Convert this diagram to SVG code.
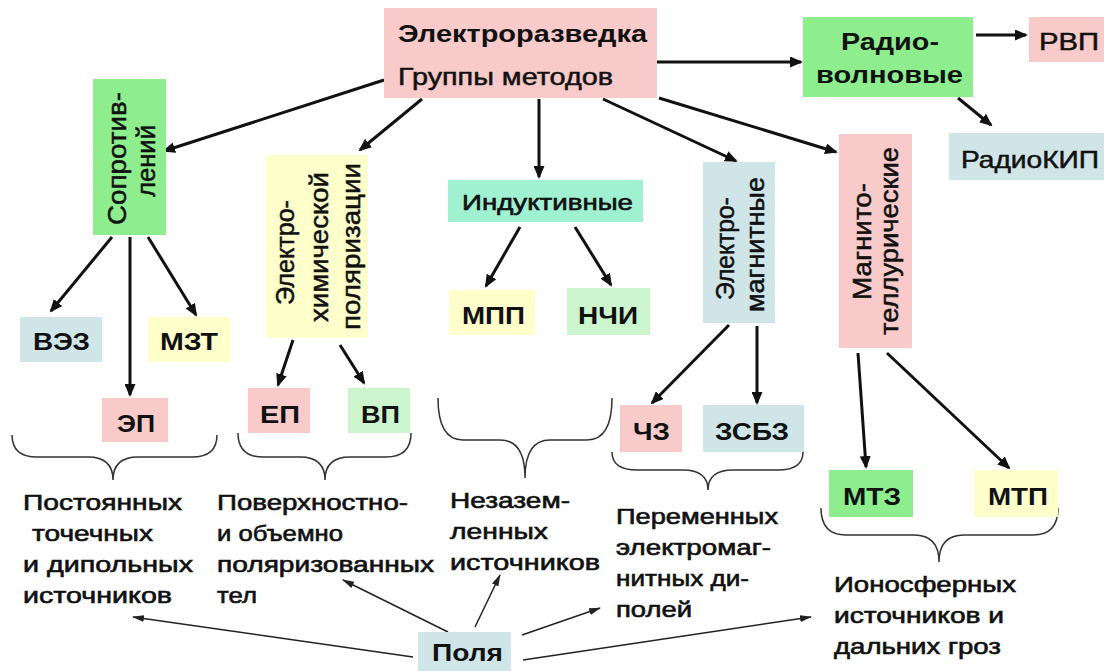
<svg xmlns="http://www.w3.org/2000/svg" width="1106" height="671" viewBox="0 0 1106 671">
<style>
text{font-family:"Liberation Sans",Arial,sans-serif;fill:#111}
.b{font-weight:bold;font-size:24px}
.r{font-size:24px;stroke:#111;stroke-width:0.5}
.v{font-size:25px;stroke:#111;stroke-width:0.5}
.t{font-size:21.5px;stroke:#111;stroke-width:0.6}
.pink{fill:#F8CACA}
.green{fill:#8EEE8E}
.lgreen{fill:#CDF5CD}
.teal{fill:#A0F0D2}
.blue{fill:#CFE5E8}
.yellow{fill:#FFFFCC}
.thick{stroke:#111;stroke-width:3;fill:none;marker-end:url(#ah)}
.thin{stroke:#222;stroke-width:1.5;fill:none;marker-end:url(#ahs)}
.brace{stroke:#333;stroke-width:1.5;fill:none}
</style>
<defs>
<marker id="ah" viewBox="0 0 13 11" refX="11" refY="5.5" markerWidth="13" markerHeight="11" markerUnits="userSpaceOnUse" orient="auto"><path d="M0,0 L13,5.5 L0,11 z" fill="#111"/></marker>
<marker id="ahs" viewBox="0 0 12 7" refX="11" refY="3.5" markerWidth="12" markerHeight="7" markerUnits="userSpaceOnUse" orient="auto"><path d="M0,0 L12,3.5 L0,7 z" fill="#222"/></marker>
</defs>
<rect width="1106" height="671" fill="#fff"/>

<g id="connectors">
<line class="thick" x1="384" y1="80" x2="164" y2="151"/>
<line class="thick" x1="422" y1="99" x2="360" y2="150"/>
<line class="thick" x1="539" y1="99" x2="539" y2="177"/>
<line class="thick" x1="603" y1="99" x2="736" y2="161"/>
<line class="thick" x1="659" y1="98" x2="836" y2="152"/>
<line class="thick" x1="657" y1="62" x2="801" y2="62"/>
<line class="thick" x1="976" y1="35" x2="1026" y2="35"/>
<line class="thick" x1="958" y1="98" x2="991" y2="125"/>
<line class="thick" x1="112" y1="237" x2="51" y2="311"/>
<line class="thick" x1="130" y1="237" x2="130" y2="395"/>
<line class="thick" x1="148" y1="237" x2="196" y2="315"/>
<line class="thick" x1="293" y1="340" x2="278" y2="385"/>
<line class="thick" x1="340" y1="345" x2="364" y2="383"/>
<line class="thick" x1="520" y1="227" x2="486" y2="286"/>
<line class="thick" x1="575" y1="227" x2="611" y2="285"/>
<line class="thick" x1="729" y1="325" x2="652" y2="403"/>
<line class="thick" x1="757" y1="326" x2="757" y2="403"/>
<line class="thick" x1="858" y1="353" x2="866" y2="467"/>
<line class="thick" x1="887" y1="353" x2="1009" y2="468"/>
<line class="thin" x1="413" y1="657" x2="133" y2="617"/>
<line class="thin" x1="448" y1="632" x2="343" y2="580"/>
<line class="thin" x1="475" y1="627" x2="500" y2="575"/>
<line class="thin" x1="522" y1="635" x2="600" y2="608"/>
<line class="thin" x1="523" y1="660" x2="811" y2="617"/>
</g>

<g id="braces">
<path class="brace" d="M12,435 Q12,457 37,457 L88,457 Q113,457 113,480 Q113,457 138,457 L192,457 Q217,457 217,435"/>
<path class="brace" d="M238,433 Q238,457 263,457 L300,457 Q325,457 325,480 Q325,457 350,457 L386,457 Q411,457 411,433"/>
<path class="brace" d="M438,398 Q438,440 463,440 L500,440 Q525,440 525,478 Q525,440 550,440 L587,440 Q612,440 612,398"/>
<path class="brace" d="M612,452 Q612,470 637,470 L683,470 Q708,470 708,490 Q708,470 733,470 L778,470 Q803,470 803,452"/>
<path class="brace" d="M821,508 Q821,535 846,535 L914,535 Q939,535 939,562 Q939,535 964,535 L1033,535 Q1058,535 1058,508"/>
</g>

<g id="n-top">
<rect class="pink" x="384" y="8" width="273" height="90"/>
<text class="b" x="398" y="42" textLength="249" lengthAdjust="spacingAndGlyphs">Электроразведка</text>
<text class="r" x="398" y="85" textLength="215" lengthAdjust="spacingAndGlyphs">Группы методов</text>
</g>
<g id="n-radio">
<rect class="green" x="803" y="17" width="170" height="80"/>
<text class="b" x="841" y="50" textLength="98" lengthAdjust="spacingAndGlyphs">Радио-</text>
<text class="b" x="816" y="83" textLength="147" lengthAdjust="spacingAndGlyphs">волновые</text>
</g>
<g id="n-rvp">
<rect class="pink" x="1029" y="17" width="75" height="45"/>
<text class="r" x="1039" y="50" textLength="60" lengthAdjust="spacingAndGlyphs">РВП</text>
</g>
<g id="n-radiokip">
<rect class="blue" x="949" y="133" width="155" height="47"/>
<text class="r" x="961" y="168" textLength="138" lengthAdjust="spacingAndGlyphs">РадиоКИП</text>
</g>
<g id="n-soprot">
<rect class="green" x="93" y="79" width="73" height="156"/>
<text class="v" transform="translate(126,225) rotate(-90)" textLength="133" lengthAdjust="spacingAndGlyphs">Сопротив-</text>
<text class="v" transform="translate(155,197) rotate(-90)" textLength="72" lengthAdjust="spacingAndGlyphs">лений</text>
</g>
<g id="n-ehp">
<rect class="yellow" x="266" y="155" width="102" height="183"/>
<text class="v" transform="translate(294,305) rotate(-90)" textLength="105" lengthAdjust="spacingAndGlyphs">Электро-</text>
<text class="v" transform="translate(328,322) rotate(-90)" textLength="150" lengthAdjust="spacingAndGlyphs">химической</text>
<text class="v" transform="translate(360,330) rotate(-90)" textLength="167" lengthAdjust="spacingAndGlyphs">поляризации</text>
</g>
<g id="n-induct">
<rect class="teal" x="448" y="180" width="195" height="42"/>
<text class="t" x="462" y="210" textLength="171" lengthAdjust="spacingAndGlyphs">Индуктивные</text>
</g>
<g id="n-em">
<rect class="blue" x="703" y="162" width="72" height="161"/>
<text class="v" transform="translate(734,300) rotate(-90)" textLength="103" lengthAdjust="spacingAndGlyphs">Электро-</text>
<text class="v" transform="translate(764,312) rotate(-90)" textLength="135" lengthAdjust="spacingAndGlyphs">магнитные</text>
</g>
<g id="n-mt">
<rect class="pink" x="839" y="134" width="73" height="214"/>
<text class="v" transform="translate(871,300) rotate(-90)" textLength="117" lengthAdjust="spacingAndGlyphs">Магнито-</text>
<text class="v" transform="translate(898,335) rotate(-90)" textLength="188" lengthAdjust="spacingAndGlyphs">теллурические</text>
</g>
<g id="n-vez">
<rect class="blue" x="20" y="317" width="82" height="45"/>
<text class="b" x="33" y="350" textLength="57" lengthAdjust="spacingAndGlyphs">ВЭЗ</text>
</g>
<g id="n-mzt">
<rect class="yellow" x="148" y="317" width="82" height="45"/>
<text class="b" x="160" y="350" textLength="58" lengthAdjust="spacingAndGlyphs">МЗТ</text>
</g>
<g id="n-ep1">
<rect class="pink" x="102" y="398" width="66" height="44"/>
<text class="b" x="117" y="432" textLength="38" lengthAdjust="spacingAndGlyphs">ЭП</text>
</g>
<g id="n-ep2">
<rect class="pink" x="248" y="388" width="62" height="45"/>
<text class="b" x="260" y="423" textLength="40" lengthAdjust="spacingAndGlyphs">ЕП</text>
</g>
<g id="n-vp">
<rect class="lgreen" x="348" y="388" width="62" height="45"/>
<text class="b" x="361" y="423" textLength="39" lengthAdjust="spacingAndGlyphs">ВП</text>
</g>
<g id="n-mpp">
<rect class="yellow" x="449" y="290" width="86" height="45"/>
<text class="b" x="462" y="324" textLength="63" lengthAdjust="spacingAndGlyphs">МПП</text>
</g>
<g id="n-nchi">
<rect class="lgreen" x="567" y="288" width="83" height="47"/>
<text class="b" x="578" y="324" textLength="60" lengthAdjust="spacingAndGlyphs">НЧИ</text>
</g>
<g id="n-chz">
<rect class="pink" x="620" y="405" width="62" height="47"/>
<text class="b" x="633" y="440" textLength="37" lengthAdjust="spacingAndGlyphs">ЧЗ</text>
</g>
<g id="n-zsbz">
<rect class="blue" x="703" y="405" width="101" height="47"/>
<text class="b" x="715" y="440" textLength="74" lengthAdjust="spacingAndGlyphs">ЗСБЗ</text>
</g>
<g id="n-mtz">
<rect class="green" x="829" y="470" width="84" height="47"/>
<text class="b" x="843" y="505" textLength="58" lengthAdjust="spacingAndGlyphs">МТЗ</text>
</g>
<g id="n-mtp">
<rect class="yellow" x="974" y="470" width="84" height="47"/>
<text class="b" x="988" y="505" textLength="60" lengthAdjust="spacingAndGlyphs">МТП</text>
</g>
<g id="n-polya">
<rect class="blue" x="418" y="632" width="93" height="45"/>
<text class="b" x="432" y="661" textLength="71" lengthAdjust="spacingAndGlyphs">Поля</text>
</g>

<g id="labels">
<text class="t" x="23" y="510" textLength="159" lengthAdjust="spacingAndGlyphs">Постоянных</text>
<text class="t" x="32" y="541" textLength="121" lengthAdjust="spacingAndGlyphs">точечных</text>
<text class="t" x="23" y="572" textLength="170" lengthAdjust="spacingAndGlyphs">и дипольных</text>
<text class="t" x="23" y="603" textLength="149" lengthAdjust="spacingAndGlyphs">источников</text>
<text class="t" x="217" y="510" textLength="191" lengthAdjust="spacingAndGlyphs">Поверхностно-</text>
<text class="t" x="217" y="541" textLength="126" lengthAdjust="spacingAndGlyphs">и объемно</text>
<text class="t" x="217" y="572" textLength="217" lengthAdjust="spacingAndGlyphs">поляризованных</text>
<text class="t" x="217" y="603" textLength="40" lengthAdjust="spacingAndGlyphs">тел</text>
<text class="t" x="450" y="508" textLength="120" lengthAdjust="spacingAndGlyphs">Незазем-</text>
<text class="t" x="450" y="539" textLength="98" lengthAdjust="spacingAndGlyphs">ленных</text>
<text class="t" x="450" y="570" textLength="150" lengthAdjust="spacingAndGlyphs">источников</text>
<text class="t" x="616" y="524" textLength="162" lengthAdjust="spacingAndGlyphs">Переменных</text>
<text class="t" x="616" y="555" textLength="155" lengthAdjust="spacingAndGlyphs">электромаг-</text>
<text class="t" x="616" y="586" textLength="133" lengthAdjust="spacingAndGlyphs">нитных ди-</text>
<text class="t" x="616" y="617" textLength="76" lengthAdjust="spacingAndGlyphs">полей</text>
<text class="t" x="834" y="592" textLength="182" lengthAdjust="spacingAndGlyphs">Ионосферных</text>
<text class="t" x="834" y="623" textLength="170" lengthAdjust="spacingAndGlyphs">источников и</text>
<text class="t" x="834" y="654" textLength="167" lengthAdjust="spacingAndGlyphs">дальних гроз</text>
</g>
</svg>
